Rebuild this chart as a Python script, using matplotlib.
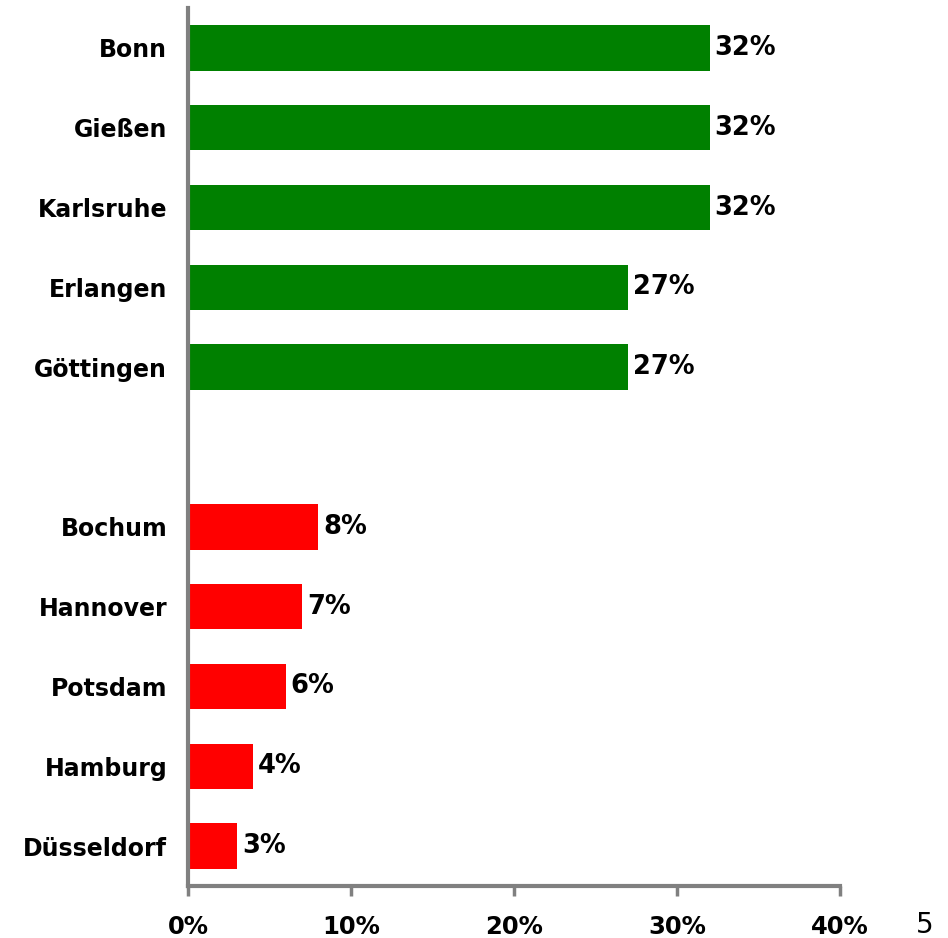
import matplotlib.pyplot as plt
import numpy as np

cities = ['Bonn', 'Gießen', 'Karlsruhe', 'Erlangen', 'Göttingen', '',
          'Bochum', 'Hannover', 'Potsdam', 'Hamburg', 'Düsseldorf']
values = [32, 32, 32, 27, 27, np.nan, 8, 7, 6, 4, 3]
colors = ['#008000'] * 5 + ['white'] + ['#ff0000'] * 5
xticks = [0, 10, 20, 30, 40]

plt.rc('font', family='DejaVu Sans', weight='bold')

fig = plt.figure(figsize=(9.48, 9.38), dpi=100)
ax = fig.add_axes([188 / 948, 1 - 886 / 938, (840 - 188) / 948, (886 - 8) / 938])

ypos = np.arange(len(cities))
vals = np.nan_to_num(values)
ax.barh(ypos, vals, height=0.57, color=colors, zorder=2)

for y, v in zip(ypos, values):
    if not np.isnan(v):
        ax.text(v + 0.3, y, '%d%%' % v, va='center', ha='left',
                fontsize=18.5, fontweight='bold')

ax.set_ylim(len(cities) - 0.5, -0.5)
ax.set_xlim(0, 40)
ax.set_yticks(ypos)
ax.set_yticklabels(cities, fontsize=17, fontweight='bold')
ax.tick_params(axis='y', length=0, pad=15)
ax.set_xticks(xticks)
ax.set_xticklabels(['%d%%' % t for t in xticks], fontsize=17.5, fontweight='bold')
ax.tick_params(axis='x', length=7, width=2.5, color='#808080', pad=14)

for s in ['top', 'right']:
    ax.spines[s].set_visible(False)
for s in ['left', 'bottom']:
    ax.spines[s].set_color('#808080')
    ax.spines[s].set_linewidth(3)

fig.text(925 / 948, 1 - 925 / 938, '5', fontsize=20, fontweight='normal',
         ha='center', va='center')

plt.savefig('out.png', dpi=100)
plt.close()
